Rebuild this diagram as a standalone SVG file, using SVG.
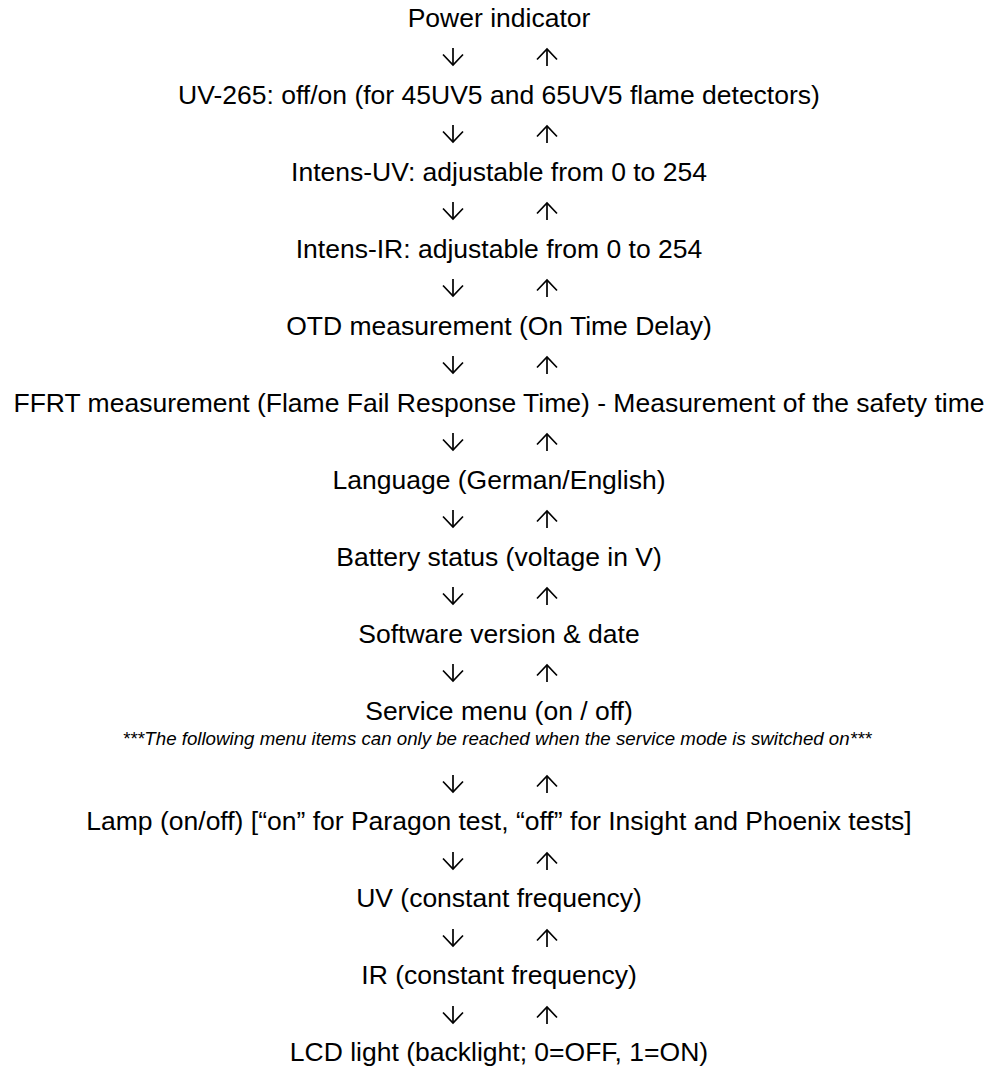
<svg xmlns="http://www.w3.org/2000/svg" width="995" height="1068" viewBox="0 0 995 1068">
<style>
  .t { font-family: "Liberation Sans", Arial, sans-serif; font-size: 26.5px; fill: #000; text-anchor: middle; }
  .n { font-family: "Liberation Sans", Arial, sans-serif; font-size: 18.7px; font-style: italic; fill: #000; text-anchor: middle; }
  .c { stroke: #000; stroke-width: 1.7; fill: none; marker-end: url(#head); }
</style>
<defs>
  <marker id="head" markerUnits="userSpaceOnUse" viewBox="-12 -12 14 24" refX="0" refY="0" markerWidth="14" markerHeight="24" orient="auto" overflow="visible">
    <path d="M -10.5 -10 L 0 0 L -10.5 10" fill="none" stroke="#000" stroke-width="1.7" stroke-linejoin="miter"/>
  </marker>
</defs>
<rect width="995" height="1068" fill="#fff"/>
<g id="n-power"><text class="t" x="499" y="27">Power indicator</text></g>
<g id="n-uv265"><text class="t" x="499" y="104">UV-265: off/on (for 45UV5 and 65UV5 flame detectors)</text></g>
<g id="n-intens-uv"><text class="t" x="499" y="181">Intens-UV: adjustable from 0 to 254</text></g>
<g id="n-intens-ir"><text class="t" x="499" y="258">Intens-IR: adjustable from 0 to 254</text></g>
<g id="n-otd"><text class="t" x="499" y="335">OTD measurement (On Time Delay)</text></g>
<g id="n-ffrt"><text class="t" x="499" y="412">FFRT measurement (Flame Fail Response Time) - Measurement of the safety time</text></g>
<g id="n-language"><text class="t" x="499" y="489">Language (German/English)</text></g>
<g id="n-battery"><text class="t" x="499" y="566">Battery status (voltage in V)</text></g>
<g id="n-software"><text class="t" x="499" y="643">Software version &amp; date</text></g>
<g id="n-service"><text class="t" x="499" y="720">Service menu (on / off)</text>
  <text class="n" x="497" y="745">***The following menu items can only be reached when the service mode is switched on***</text></g>
<g id="n-lamp"><text class="t" x="499" y="830">Lamp (on/off) [“on” for Paragon test, “off” for Insight and Phoenix tests]</text></g>
<g id="n-uv"><text class="t" x="499" y="907">UV (constant frequency)</text></g>
<g id="n-ir"><text class="t" x="499" y="984">IR (constant frequency)</text></g>
<g id="n-lcd"><text class="t" x="499" y="1061">LCD light (backlight; 0=OFF, 1=ON)</text></g>
<g id="connectors">
  <path class="c" d="M453 48V65"/><path class="c" d="M547 66V49"/>
  <path class="c" d="M453 125V142"/><path class="c" d="M547 143V126"/>
  <path class="c" d="M453 202V219"/><path class="c" d="M547 220V203"/>
  <path class="c" d="M453 279V296"/><path class="c" d="M547 297V280"/>
  <path class="c" d="M453 356V373"/><path class="c" d="M547 374V357"/>
  <path class="c" d="M453 433V450"/><path class="c" d="M547 451V434"/>
  <path class="c" d="M453 510V527"/><path class="c" d="M547 528V511"/>
  <path class="c" d="M453 587V604"/><path class="c" d="M547 605V588"/>
  <path class="c" d="M453 664V681"/><path class="c" d="M547 682V665"/>
  <path class="c" d="M453 775V792"/><path class="c" d="M547 793V776"/>
  <path class="c" d="M453 852V869"/><path class="c" d="M547 870V853"/>
  <path class="c" d="M453 929V946"/><path class="c" d="M547 947V930"/>
  <path class="c" d="M453 1006V1023"/><path class="c" d="M547 1024V1007"/>
</g>
</svg>
